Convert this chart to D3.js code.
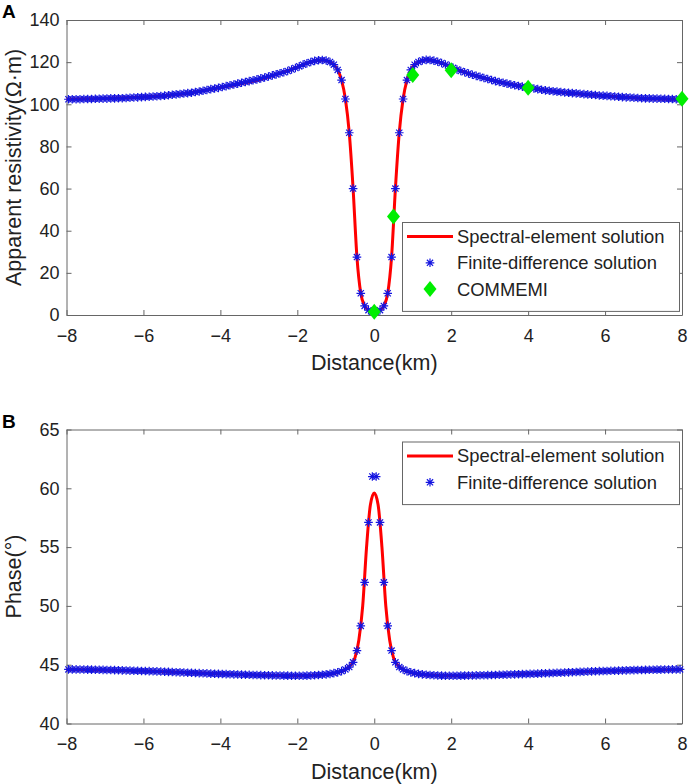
<!DOCTYPE html>
<html>
<head>
<meta charset="utf-8">
<script src="https://cdn.jsdelivr.net/npm/d3@7"></script>
<style>
  body { margin: 0; background: #fff; }
  svg { font-family: "Liberation Sans", Arial, sans-serif; }
  .axis path, .axis line { stroke: #666; }
  .axis text { fill: #222; font-size: 18px; }
</style>
</head>
<body>
<div id="chart"></div>
<script>
// tick labels
var xTicks = [-8, -6, -4, -2, 0, 2, 4, 6, 8];
var rhoTicks = [0, 20, 40, 60, 80, 100, 120, 140];
var phaseTicks = [40, 45, 50, 55, 60, 65];

// finite-difference grid (km)
var fdX = [-7.95,-7.85,-7.75,-7.65,-7.55,-7.45,-7.35,-7.25,-7.15,-7.05,
  -6.95,-6.85,-6.75,-6.65,-6.55,-6.45,-6.35,-6.25,-6.15,-6.05,
  -5.95,-5.85,-5.75,-5.65,-5.55,-5.45,-5.35,-5.25,-5.15,-5.05,
  -4.95,-4.85,-4.75,-4.65,-4.55,-4.45,-4.35,-4.25,-4.15,-4.05,
  -3.95,-3.85,-3.75,-3.65,-3.55,-3.45,-3.35,-3.25,-3.15,-3.05,
  -2.95,-2.85,-2.75,-2.65,-2.55,-2.45,-2.35,-2.25,-2.15,-2.05,
  -1.95,-1.85,-1.75,-1.65,-1.55,-1.45,-1.35,-1.25,-1.15,-1.05,
  -0.95,-0.85,-0.75,-0.65,-0.55,-0.45,-0.35,-0.25,-0.15,-0.05,
  0.05,0.15,0.25,0.35,0.45,0.55,0.65,0.75,0.85,0.95,
  1.05,1.15,1.25,1.35,1.45,1.55,1.65,1.75,1.85,1.95,
  2.05,2.15,2.25,2.35,2.45,2.55,2.65,2.75,2.85,2.95,
  3.05,3.15,3.25,3.35,3.45,3.55,3.65,3.75,3.85,3.95,
  4.05,4.15,4.25,4.35,4.45,4.55,4.65,4.75,4.85,4.95,
  5.05,5.15,5.25,5.35,5.45,5.55,5.65,5.75,5.85,5.95,
  6.05,6.15,6.25,6.35,6.45,6.55,6.65,6.75,6.85,6.95,
  7.05,7.15,7.25,7.35,7.45,7.55,7.65,7.75,7.85,7.95];

// apparent resistivity, finite-difference
var fdRho = [102.4,102.4,102.4,102.4,102.5,102.5,102.5,102.6,102.6,102.7,
  102.7,102.8,102.8,102.9,102.9,103.0,103.1,103.2,103.3,103.4,
  103.5,103.6,103.7,103.8,103.9,104.1,104.3,104.5,104.7,104.9,
  105.1,105.3,105.5,105.8,106.1,106.4,106.8,107.2,107.5,107.8,
  108.2,108.6,109.0,109.4,109.8,110.2,110.6,111.0,111.4,111.8,
  112.3,112.7,113.2,113.7,114.2,114.7,115.2,115.8,116.5,117.2,
  118.0,118.8,119.5,120.1,120.6,120.9,121.0,120.8,120.1,118.8,
  116.3,111.5,102.5,86.5,60.0,27.5,10.3,4.3,2.3,1.6,
  1.6,2.3,4.3,10.3,27.5,60.0,86.5,102.5,111.5,116.3,
  118.8,120.1,120.8,121.1,121.0,120.7,120.2,119.6,118.9,118.1,
  117.3,116.5,115.8,115.2,114.6,114.0,113.5,113.0,112.5,112.0,
  111.5,111.0,110.6,110.2,109.8,109.4,109.0,108.7,108.4,108.1,
  107.8,107.5,107.2,106.9,106.6,106.4,106.2,106.0,105.8,105.6,
  105.5,105.3,105.2,105.0,104.8,104.7,104.5,104.4,104.2,104.1,
  104.0,103.8,103.7,103.6,103.4,103.3,103.2,103.1,103.0,102.9,
  102.8,102.8,102.7,102.7,102.6,102.6,102.5,102.5,102.4,102.4];

// phase, finite-difference
var fdPhase = [44.60,44.60,44.60,44.59,44.59,44.58,44.58,44.57,44.57,44.56,
  44.55,44.55,44.54,44.53,44.52,44.51,44.50,44.49,44.48,44.47,
  44.46,44.45,44.44,44.43,44.42,44.40,44.39,44.38,44.36,44.35,
  44.34,44.32,44.31,44.30,44.28,44.27,44.26,44.24,44.23,44.22,
  44.21,44.20,44.19,44.18,44.17,44.16,44.15,44.14,44.13,44.12,
  44.11,44.10,44.10,44.09,44.08,44.08,44.07,44.07,44.06,44.06,
  44.06,44.06,44.07,44.08,44.10,44.12,44.14,44.18,44.22,44.28,
  44.35,44.45,44.60,44.80,45.20,46.20,48.30,52.00,57.10,61.00,
  61.00,57.10,52.00,48.30,46.20,45.20,44.80,44.60,44.45,44.35,
  44.28,44.22,44.18,44.14,44.12,44.10,44.08,44.07,44.06,44.06,
  44.06,44.06,44.07,44.07,44.08,44.08,44.09,44.10,44.10,44.11,
  44.12,44.13,44.14,44.15,44.16,44.17,44.18,44.19,44.20,44.21,
  44.22,44.23,44.24,44.26,44.27,44.28,44.30,44.31,44.32,44.34,
  44.35,44.36,44.38,44.39,44.40,44.42,44.43,44.44,44.45,44.46,
  44.47,44.48,44.49,44.50,44.51,44.52,44.53,44.54,44.55,44.55,
  44.56,44.57,44.57,44.58,44.58,44.59,44.59,44.60,44.60,44.60];

// spectral-element solution
var seRhoX = [-8,-7,-6,-5,-4,-3,-2.5,-2,-1.75,-1.5,-1.35,-1.2,-1.05,-0.95,-0.85,-0.75,-0.65,-0.55,-0.45,-0.35,-0.25,-0.15,0,
  0.15,0.25,0.35,0.45,0.55,0.65,0.75,0.85,0.95,1.05,1.2,1.35,1.5,1.75,2,2.5,3,4,5,6,7,8];
var seRho = [102.4,102.7,103.4,104.9,108.0,111.6,114.4,117.6,119.5,120.8,121.0,120.5,118.8,116.3,111.5,102.5,86.5,60.0,27.5,10.3,4.3,2.3,1.5,
  2.3,4.3,10.3,27.5,60.0,86.5,102.5,111.5,116.3,118.8,120.5,121.0,120.9,119.6,117.7,114.3,111.7,108.0,105.5,104.0,102.8,102.4];

var sePhaseX = [-8,-6,-4,-2,-1.5,-1,-0.8,-0.6,-0.5,-0.4,-0.3,-0.2,-0.1,0,0.1,0.2,0.3,0.4,0.5,0.6,0.8,1,1.5,2,4,6,8];
var sePhase = [44.6,44.46,44.22,44.06,44.1,44.3,44.5,45.0,45.6,47.1,50.0,55.0,58.6,59.6,58.6,55.0,50.0,47.1,45.6,45.0,44.5,44.3,44.1,44.06,44.22,44.46,44.6];

// COMMEMI reference values
var comX = [0, 0.5, 1, 2, 4, 8];
var comRho = [1.6, 46.7, 113.9, 116.2, 107.9, 102.6];

var W = 699, H = 784;
var svg = d3.select("#chart").append("svg")
    .attr("width", W)
    .attr("height", H);

var left = 66.5, right = 682;

function asterisk(r){
    var a = r * 0.72;
    return "M" + (-r) + ",0H" + r + "M0," + (-r) + "V" + r +
        "M" + (-a) + "," + (-a) + "L" + a + "," + a +
        "M" + (-a) + "," + a + "L" + a + "," + (-a);
}

function diamond(w, h){
    return "M0," + (-h) + "L" + w + ",0L0," + h + "L" + (-w) + ",0Z";
}

function draw_panel(opt){
    var xScale = d3.scaleLinear().domain([-8, 8]).range([left, right]);
    var yScale = d3.scaleLinear().domain(opt.yDomain).range([opt.bottom, opt.top]);

    var g = svg.append("g");

    // box axes, ticks pointing inward
    g.append("g").attr("class", "axis")
        .attr("transform", "translate(0," + opt.bottom + ")")
        .call(d3.axisBottom(xScale).tickValues(xTicks).tickSizeInner(-5).tickSizeOuter(0).tickPadding(14));
    g.append("g").attr("class", "axis")
        .attr("transform", "translate(0," + opt.top + ")")
        .call(d3.axisTop(xScale).tickValues(xTicks).tickSizeInner(-5).tickSizeOuter(0).tickFormat(""));
    g.append("g").attr("class", "axis")
        .attr("transform", "translate(" + left + ",0)")
        .call(d3.axisLeft(yScale).tickValues(opt.yTicks).tickSizeInner(-5).tickSizeOuter(0).tickPadding(7));
    g.append("g").attr("class", "axis")
        .attr("transform", "translate(" + right + ",0)")
        .call(d3.axisRight(yScale).tickValues(opt.yTicks).tickSizeInner(-5).tickSizeOuter(0).tickFormat(""));

    // spectral-element line
    var line = d3.line()
        .x(function(d){ return xScale(d[0]); })
        .y(function(d){ return yScale(d[1]); })
        .curve(d3.curveMonotoneX);
    g.append("path")
        .datum(d3.zip(opt.seX, opt.seY))
        .attr("d", line)
        .attr("fill", "none")
        .attr("stroke", "#ff0000")
        .attr("stroke-width", 3);

    // finite-difference asterisks
    g.append("g").selectAll("path")
        .data(d3.zip(fdX, opt.fdY))
        .join("path")
        .attr("transform", function(d){ return "translate(" + xScale(d[0]) + "," + yScale(d[1]) + ")"; })
        .attr("d", asterisk(4.3))
        .attr("fill", "none")
        .attr("stroke", "#1414e0")
        .attr("stroke-width", 1.2);

    if (opt.comY){
        g.append("g").selectAll("path")
            .data(d3.zip(comX, opt.comY))
            .join("path")
            .attr("transform", function(d){ return "translate(" + xScale(d[0]) + "," + yScale(d[1]) + ")"; })
            .attr("d", diamond(6.5, 8))
            .attr("fill", "#00ee00");
    }

    // axis titles
    g.append("text")
        .attr("x", (left + right) / 2)
        .attr("y", opt.bottom + 55)
        .attr("text-anchor", "middle")
        .attr("font-size", 21.5)
        .attr("fill", "#222")
        .text("Distance(km)");
    g.append("text")
        .attr("transform", "translate(21," + (opt.top + opt.bottom) / 2 + ") rotate(-90)")
        .attr("text-anchor", "middle")
        .attr("font-size", 21.5)
        .attr("fill", "#222")
        .text(opt.yTitle);
    g.append("text")
        .attr("x", 2)
        .attr("y", opt.top - 2)
        .attr("font-size", 19)
        .attr("font-weight", "bold")
        .text(opt.letter);

    // legend
    var lg = g.append("g").attr("transform", "translate(" + opt.legend[0] + "," + opt.legend[1] + ")");
    var rows = opt.comY ? 3 : 2;
    lg.append("rect")
        .attr("width", 277)
        .attr("height", 10 + rows * 26.3)
        .attr("fill", "#fff")
        .attr("stroke", "#666");
    var names = ["Spectral-element solution", "Finite-difference solution", "COMMEMI"];
    for (var i = 0; i < rows; i++){
        var yy = 14 + i * 26.3;
        if (i === 0){
            lg.append("line").attr("x1", 4.5).attr("x2", 50.5).attr("y1", yy).attr("y2", yy)
                .attr("stroke", "#ff0000").attr("stroke-width", 3);
        } else if (i === 1){
            lg.append("path").attr("transform", "translate(27.5," + yy + ")")
                .attr("d", asterisk(4.3)).attr("fill", "none").attr("stroke", "#1414e0").attr("stroke-width", 1.2);
        } else {
            lg.append("path").attr("transform", "translate(27.5," + yy + ")")
                .attr("d", diamond(6.5, 8)).attr("fill", "#00ee00");
        }
        lg.append("text")
            .attr("x", 54.5)
            .attr("y", yy)
            .attr("dy", "0.35em")
            .attr("font-size", 18.4)
            .attr("fill", "#222")
            .text(names[i]);
    }
}

draw_panel({
    top: 20, bottom: 315,
    yDomain: [0, 140], yTicks: rhoTicks,
    seX: seRhoX, seY: seRho, fdY: fdRho, comY: comRho,
    yTitle: "Apparent resistivity(\u03A9\u00B7m)",
    letter: "A",
    legend: [402.5, 222.5]
});

draw_panel({
    top: 429.5, bottom: 723.5,
    yDomain: [40, 65], yTicks: phaseTicks,
    seX: sePhaseX, seY: sePhase, fdY: fdPhase,
    yTitle: "Phase(\u00B0)",
    letter: "B",
    legend: [402.5, 442]
});
</script>
</body>
</html>
